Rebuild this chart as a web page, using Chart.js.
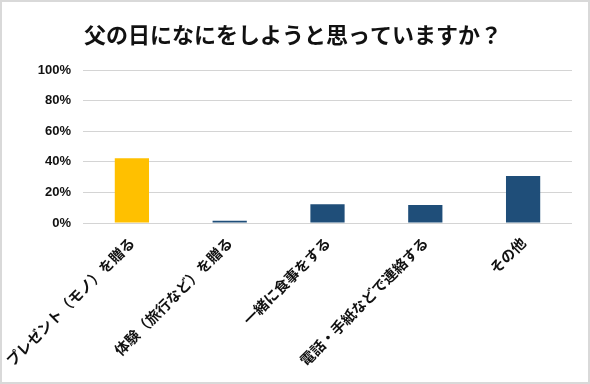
<!DOCTYPE html>
<html>
<head>
<meta charset="utf-8">
<script src="https://cdn.jsdelivr.net/npm/chart.js@4.4.1/dist/chart.umd.min.js"></script>
<style>
  html, body { margin: 0; padding: 0; background: #fff; }
  #wrap { width: 590px; height: 384px; position: relative; }
</style>
</head>
<body>
<div id="wrap"><canvas id="c" width="590" height="384"></canvas></div>
<script>
const titleText = "父の日になにをしようと思っていますか？";
const categories = ["プレゼント（モノ）を贈る", "体験（旅行など）を贈る", "一緒に食事をする", "電話・手紙などで連絡する", "その他"];
const values = [42.3, 1.5, 12.2, 11.8, 30.7];
const barColors = ["#FFC000", "#1F4E79", "#1F4E79", "#1F4E79", "#1F4E79"];
const yTicks = [0, 20, 40, 60, 80, 100];

const frame = {
  id: "frame",
  beforeDraw(chart) {
    const ctx = chart.ctx;
    ctx.save();
    ctx.fillStyle = "#ffffff";
    ctx.fillRect(0, 0, chart.width, chart.height);
    ctx.restore();
  },
  afterDraw(chart) {
    const ctx = chart.ctx;
    ctx.save();
    ctx.fillStyle = "#111";
    ctx.font = 'bold 22px "Noto Sans CJK JP", sans-serif';
    ctx.textAlign = "center";
    ctx.textBaseline = "middle";
    ctx.fillText(titleText, 293, 35);
    ctx.strokeStyle = "#d9d9d9";
    ctx.lineWidth = 2;
    ctx.strokeRect(1, 1, chart.width - 2, chart.height - 2);
    ctx.restore();
  }
};

new Chart(document.getElementById("c"), {
  type: "bar",
  data: {
    labels: categories,
    datasets: [{
      data: values,
      backgroundColor: barColors,
      borderWidth: 0,
      barPercentage: 0.35,
      categoryPercentage: 1.0
    }]
  },
  options: {
    responsive: false,
    animation: false,
    devicePixelRatio: 1,
    layout: { padding: { left: 0, right: 18, top: 70, bottom: 0 } },
    plugins: {
      legend: { display: false },
      tooltip: { enabled: false },
      title: { display: false }
    },
    scales: {
      x: {
        grid: { display: false },
        border: { display: false },
        ticks: {
          autoSkip: false,
          minRotation: 45,
          maxRotation: 45,
          padding: 3,
          color: "#111",
          font: { family: '"Noto Sans CJK JP", sans-serif', size: 14.5, weight: "bold" }
        },
        afterFit(s) {
          s.height = 384 - 223;
          s.paddingLeft = 0;
          s.paddingRight = 0;
        }
      },
      y: {
        min: 0,
        max: 100,
        afterBuildTicks(s) { s.ticks = yTicks.map(v => ({ value: v })); },
        grid: { color: "#d4d4d4", lineWidth: 1, drawTicks: false },
        border: { display: false },
        ticks: {
          padding: 12,
          color: "#111",
          font: { family: '"Liberation Sans", Arial, sans-serif', size: 13, weight: "bold" },
          callback: v => v + "%"
        },
        afterFit(s) {
          s.width = 83;
          s.paddingTop = 0;
          s.paddingBottom = 0;
        }
      }
    }
  },
  plugins: [frame]
});
</script>
</body>
</html>
